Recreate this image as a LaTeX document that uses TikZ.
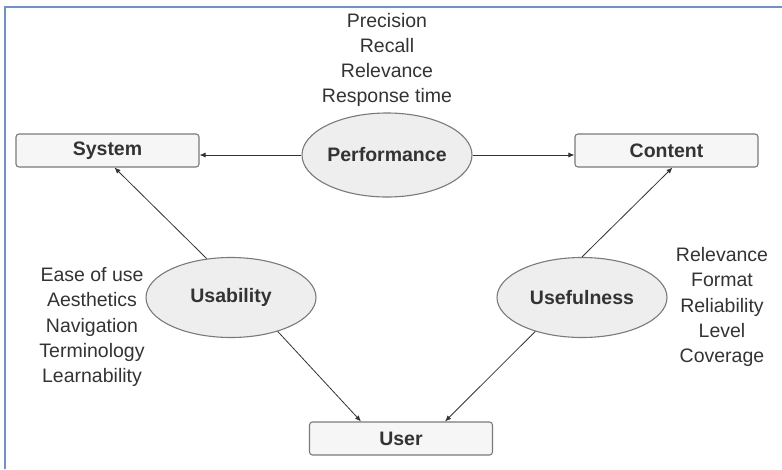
\documentclass[tikz,border=0pt]{standalone}
\usepackage{fontspec}
\setmainfont{Liberation Sans}
\usetikzlibrary{
  shapes.geometric,
  arrows.meta,
  positioning,
}
\definecolor{framecol}{HTML}{6A93D4}
\definecolor{inkcol}{HTML}{333333}
\definecolor{edgecol}{HTML}{7A7A7A}
\tikzset{
  box/.style={
    rectangle,
    rounded corners=3pt,
    minimum width=183pt,
    minimum height=33pt,
    text centered,
    draw=edgecol,
    line width=1.1pt,
    fill=gray!7,
    font=\fontsize{19.5}{23}\selectfont\bfseries,
    text=inkcol
  },
  quality/.style={
    ellipse,
    minimum width=170pt,
    minimum height=80pt,
    inner sep=0pt,
    text centered,
    draw=edgecol,
    line width=1.1pt,
    fill=gray!13,
    font=\fontsize{19.5}{23}\selectfont\bfseries,
    text=inkcol
  },
  metrics/.style={
    align=center,
    inner sep=0pt,
    font=\fontsize{19.5}{25.3}\selectfont,
    text=inkcol
  },
  arrow/.style={
    line width=0.8pt,
    draw=inkcol,
    -{Latex[length=6pt,width=5pt]},
  },
}
\begin{document}
\begin{tikzpicture}[x=1pt, y=-1pt]
  \useasboundingbox (0,0) rectangle (782,469);

  % Frame
  \draw[framecol, line width=2pt] (4.5,469) -- (4.5,7) -- (782,7);

  % Boxes
  \node (sys) [box] at (107.5,150.5) {System};
  \node (cont) [box] at (666.5,150.5) {Content};
  \node (user) [box] at (401,438.5) {User};

  % Quality dimensions
  \node (perf) [quality, minimum height=84pt] at (387,155) {Performance};
  \node (usab) [quality] at (231,297.5) {Usability};
  \node (usef) [quality] at (582,297.5) {Usefulness};

  % Measures
  \node (perf_m) [metrics] at (387,60) {Precision\\Recall\\Relevance\\Response time};
  \node (usab_m) [metrics] at (92,327) {Ease of use\\Aesthetics\\Navigation\\Terminology\\Learnability};
  \node (usef_m) [metrics] at (722,307) {Relevance\\Format\\Reliability\\Level\\Coverage};

  % Arrows
  \draw [arrow] (perf.west) -- (perf.west -| sys.east);
  \draw [arrow] (perf.east) -- (perf.east -| cont.west);
  \draw [arrow] (usab.122) -- ([xshift=7pt]sys.south);
  \draw [arrow] (usab.324) -- ([xshift=-40pt]user.north);
  \draw [arrow] (usef.north) -- ([xshift=6pt]cont.south);
  \draw [arrow] (usef.216) -- ([xshift=44pt]user.north);

\end{tikzpicture}
\end{document}
